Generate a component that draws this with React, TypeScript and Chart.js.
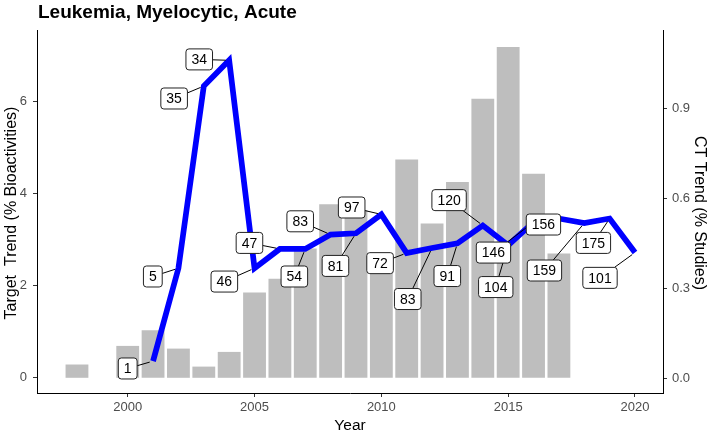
import React, { useEffect, useRef } from 'react';
import { Chart, registerables } from 'chart.js';

Chart.register(...registerables);

// ---- data ----
const chartTitle = 'Leukemia, Myelocytic, Acute';
const xTitle = 'Year';
const yLeftTitle = 'Target  Trend (% Bioactivities)';
const yRightTitle = 'CT Trend (% Studies)';

// CT trend bars (right axis, % studies)
const barYears = [1998, 2000, 2001, 2002, 2003, 2004, 2005, 2006, 2007, 2008, 2009, 2010, 2011, 2012, 2013, 2014, 2015, 2016, 2017];
const barValues = [0.046, 0.108, 0.16, 0.099, 0.039, 0.088, 0.286, 0.332, 0.433, 0.58, 0.56, 0.4, 0.729, 0.516, 0.654, 0.932, 1.104, 0.682, 0.416];

// Target trend line (left axis, % bioactivities)
const lineYears = [2001, 2002, 2003, 2004, 2005, 2006, 2007, 2008, 2009, 2010, 2011, 2012, 2013, 2014, 2015, 2016, 2017, 2018, 2019, 2020];
const lineValues = [0.36, 2.38, 6.34, 6.9, 2.38, 2.8, 2.8, 3.11, 3.14, 3.55, 2.71, 2.82, 2.92, 3.31, 2.88, 3.38, 3.46, 3.36, 3.46, 2.72];

// count labels for each line point
const labelValues = [1, 5, 35, 34, 46, 47, 54, 83, 81, 97, 72, 83, 91, 120, 104, 146, 156, 159, 175, 101];
// label anchor placement (year, left-axis value) as resolved by the repel layout
const labelX = [2000.0, 2000.99, 2001.83, 2002.82, 2003.81, 2004.8, 2006.57, 2006.8, 2008.19, 2008.83, 2009.95, 2011.04, 2012.6, 2012.67, 2014.51, 2014.42, 2016.39, 2016.43, 2018.36, 2018.62];
const labelY = [0.2, 2.2, 6.07, 6.92, 2.09, 2.93, 2.2, 3.4, 2.43, 3.7, 2.49, 1.71, 2.21, 3.86, 1.97, 2.72, 3.33, 2.33, 2.93, 2.17];

// tick labels
const xTicks = [2000, 2005, 2010, 2015, 2020];
const yLeftTicks = [0, 2, 4, 6];
const yRightTicks = [0, 0.3, 0.6, 0.9];

const FONT = '"Liberation Sans", Arial, Helvetica, sans-serif';

const bgPlugin = {
  id: 'bg',
  beforeDraw(chart: any) {
    const ctx = chart.ctx;
    ctx.save();
    ctx.fillStyle = '#ffffff';
    ctx.fillRect(0, 0, chart.width, chart.height);
    ctx.restore();
  },
};

const titlesPlugin = {
  id: 'titles',
  afterDraw(chart: any) {
    const { ctx, chartArea } = chart;
    ctx.save();
    ctx.fillStyle = '#000';
    ctx.textAlign = 'left';
    ctx.textBaseline = 'alphabetic';
    ctx.font = `bold 19px ${FONT}`;
    ctx.fillText(chartTitle, chartArea.left + 1, 18);

    ctx.font = `15.5px ${FONT}`;
    ctx.textAlign = 'center';
    ctx.fillText(xTitle, (chartArea.left + chartArea.right) / 2, 430);

    const midY = (chartArea.top + chartArea.bottom) / 2 + 1.5;
    ctx.font = `16px ${FONT}`;
    ctx.save();
    ctx.translate(15.5, midY);
    ctx.rotate(-Math.PI / 2);
    ctx.fillText(yLeftTitle, 0, 0);
    ctx.restore();

    ctx.save();
    ctx.translate(695, midY);
    ctx.rotate(Math.PI / 2);
    ctx.fillText(yRightTitle, 0, 0);
    ctx.restore();
    ctx.restore();
  },
};

const labelsPlugin = {
  id: 'repelLabels',
  afterDatasetsDraw(chart: any) {
    const { ctx } = chart;
    const x = chart.scales.x;
    const y = chart.scales.y;
    ctx.save();
    ctx.font = `14px ${FONT}`;
    const padX = 5.5;
    const h = 21;
    const boxes = labelValues.map((v, i) => {
      const text = String(v);
      const w = ctx.measureText(text).width + 2 * padX;
      return {
        text,
        w,
        h,
        cx: x.getPixelForValue(labelX[i]),
        cy: y.getPixelForValue(labelY[i]),
        px: x.getPixelForValue(lineYears[i]),
        py: y.getPixelForValue(lineValues[i]),
      };
    });
    // segments
    ctx.strokeStyle = '#000';
    ctx.lineWidth = 1;
    boxes.forEach((b) => {
      const dx = b.px - b.cx;
      const dy = b.py - b.cy;
      const hw = b.w / 2;
      const hh = b.h / 2;
      if (Math.abs(dx) <= hw && Math.abs(dy) <= hh) return;
      const tx = dx !== 0 ? hw / Math.abs(dx) : Infinity;
      const ty = dy !== 0 ? hh / Math.abs(dy) : Infinity;
      const t = Math.min(tx, ty);
      const sx = b.cx + dx * t;
      const sy = b.cy + dy * t;
      const len = Math.hypot(b.px - sx, b.py - sy);
      const gap = 3.5;
      if (len - gap < 5) return;
      const ex = b.px - ((b.px - sx) / len) * gap;
      const ey = b.py - ((b.py - sy) / len) * gap;
      ctx.beginPath();
      ctx.moveTo(sx, sy);
      ctx.lineTo(ex, ey);
      ctx.stroke();
    });
    // boxes + text
    ctx.textAlign = 'center';
    ctx.textBaseline = 'middle';
    boxes.forEach((b) => {
      const l = b.cx - b.w / 2;
      const t = b.cy - b.h / 2;
      ctx.beginPath();
      ctx.roundRect(l, t, b.w, b.h, 3);
      ctx.fillStyle = '#fff';
      ctx.fill();
      ctx.strokeStyle = '#222';
      ctx.lineWidth = 1;
      ctx.stroke();
      ctx.fillStyle = '#000';
      ctx.fillText(b.text, b.cx, b.cy + 1);
    });
    ctx.restore();
  },
};

export default function App() {
  const ref = useRef<HTMLCanvasElement>(null);
  useEffect(() => {
    const canvas = ref.current;
    if (!canvas) return;
    const tickFont = { family: FONT, size: 13 };
    const chart = new Chart(canvas, {
      type: 'bar',
      data: {
        datasets: [
          {
            type: 'line',
            data: lineYears.map((yr, i) => ({ x: yr, y: lineValues[i] })),
            xAxisID: 'x',
            yAxisID: 'y',
            borderColor: '#0000ff',
            borderWidth: 5.7,
            pointRadius: 0,
            tension: 0,
            borderJoinStyle: 'miter',
            borderCapStyle: 'butt',
            order: 1,
          } as any,
          {
            type: 'bar',
            data: barYears.map((yr, i) => ({ x: yr, y: barValues[i] })),
            xAxisID: 'x',
            yAxisID: 'y2',
            backgroundColor: '#bebebe',
            borderWidth: 0,
            barPercentage: 0.9,
            categoryPercentage: 1,
            order: 2,
          } as any,
        ],
      },
      options: {
        responsive: false,
        animation: false,
        devicePixelRatio: 1,
        layout: { padding: { top: 30, left: 0, right: 0, bottom: 0 } },
        plugins: { legend: { display: false }, tooltip: { enabled: false }, title: { display: false } },
        scales: {
          x: {
            type: 'linear',
            position: 'bottom',
            min: 1996.424,
            max: 2021.104,
            offset: false,
            grid: { offset: false, drawOnChartArea: false, drawTicks: true, tickLength: 4, color: '#333', tickColor: '#333', lineWidth: 1 },
            border: { display: true, color: '#000', width: 1 },
            ticks: { font: tickFont, color: '#4d4d4d', padding: 3, autoSkip: false, maxRotation: 0, callback: (v: any) => String(v) },
            afterBuildTicks: (s: any) => { s.ticks = xTicks.map((v) => ({ value: v })); },
            afterFit: (s: any) => { s.height = 42; },
          },
          y: {
            type: 'linear',
            position: 'left',
            min: -0.333,
            max: 7.559,
            grid: { drawOnChartArea: false, drawTicks: true, tickLength: 4, color: '#333', tickColor: '#333', lineWidth: 1 },
            border: { display: true, color: '#000', width: 1 },
            ticks: { font: tickFont, color: '#4d4d4d', padding: 6, callback: (v: any) => String(v) },
            afterBuildTicks: (s: any) => { s.ticks = yLeftTicks.map((v) => ({ value: v })); },
            afterFit: (s: any) => { s.width = 37; },
          },
          y2: {
            type: 'linear',
            position: 'right',
            min: -0.049,
            max: 1.161,
            grid: { drawOnChartArea: false, drawTicks: true, tickLength: 4, color: '#333', tickColor: '#333', lineWidth: 1 },
            border: { display: true, color: '#000', width: 1 },
            ticks: { font: tickFont, color: '#4d4d4d', padding: 5, callback: (v: any) => Number(v).toFixed(1) },
            afterBuildTicks: (s: any) => { s.ticks = yRightTicks.map((v) => ({ value: v })); },
            afterFit: (s: any) => { s.width = 47; },
          },
        },
      },
      plugins: [bgPlugin, labelsPlugin, titlesPlugin],
    } as any);
    return () => chart.destroy();
  }, []);
  return (
    <div style={{ position: 'fixed', left: 0, top: 0, width: 710, height: 435, background: '#fff' }}>
      <canvas ref={ref} width={710} height={435} style={{ display: 'block', width: 710, height: 435 }} />
    </div>
  );
}
